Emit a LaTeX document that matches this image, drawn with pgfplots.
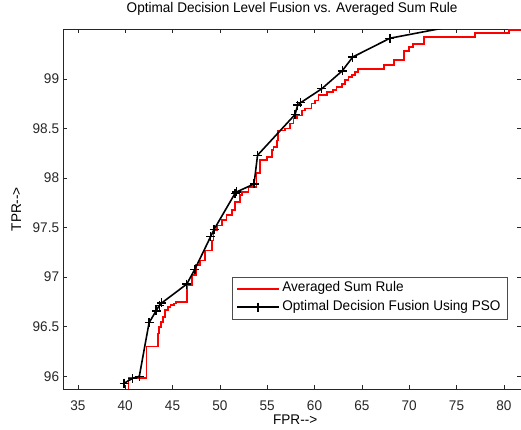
\documentclass[border=0pt]{standalone}
\usepackage{fontspec}
\setmainfont{Liberation Sans}[FakeStretch=0.97]
\usepackage{pgfplots}
\pgfplotsset{compat=1.18}
\newcommand\f{\fontsize{14bp}{16bp}\selectfont}
\begin{document}
\begin{tikzpicture}
\begin{axis}[
  scale only axis,
  width=457.7bp, height=359.7bp,
  xmin=33.46, xmax=81.81,
  ymin=95.872, ymax=99.5,
  xtick={35,40,...,80},
  ytick={96,96.5,97,97.5,98,98.5,99},
  yticklabels={96,{96.5\hspace{4.8bp}},97,{97.5\hspace{4.8bp}},98,{98.5\hspace{4.8bp}},99},
  xtick pos=both, ytick pos=both,
  tick align=inside,
  major tick length=4bp,
  minor tick num=0,
  axis line style={black!85, line width=0.7bp},
  every tick/.style={black!85, line width=0.7bp},
  /pgf/number format/assume math mode=true,
  ticklabel style={font=\f, text=black!85},
  xticklabel style={anchor=base, inner sep=0pt, yshift=-21bp},
  yticklabel style={anchor=east, inner sep=0pt, xshift=-4bp},
  title={Optimal Decision Level Fusion vs. Averaged Sum Rule},
  title style={at={(axis description cs:0.5,1)}, anchor=base, yshift=10.5bp, inner sep=0pt, font=\f},
  xlabel={FPR-{}-{}>},
  xlabel style={at={(axis description cs:0.5066,0)}, anchor=base, yshift=-35bp, inner sep=0pt, font=\f},
  ylabel={TPR-{}-{}>},
  ylabel style={at={(axis description cs:-0.0924,0.5)}, anchor=base, inner sep=0pt, font=\f},
  clip marker paths=true,
  legend cell align=left,
  legend style={at={(axis description cs:0.970,0.1938)}, anchor=south east,
    draw=black!70, line width=0.6bp, font=\f,
    inner xsep=4bp, inner ysep=2.5bp, row sep=0bp,
    nodes={inner sep=2.5bp, text height=10bp, text depth=3.5bp}},
  legend image code/.code={\draw[mark repeat=2,mark phase=2,#1] plot coordinates {(0bp,0bp) (21bp,0bp) (42bp,0bp)};},
]
\addplot[red, line width=1.6bp, const plot, mark=none] coordinates {
(40.33,95.81) (40.33,95.98) (42.27,96.30) (43.44,96.43) (43.57,96.50)
(43.78,96.55) (44.00,96.60) (44.21,96.67) (44.52,96.70) (44.79,96.72)
(45.16,96.735) (45.37,96.75) (46.50,96.92) (47.03,97.02) (47.45,97.12)
(47.90,97.17) (48.43,97.27) (49.14,97.37) (49.31,97.47) (49.70,97.52)
(50.20,97.575) (50.72,97.625) (51.25,97.675) (51.60,97.76) (52.13,97.83)
(52.31,97.86) (53.01,97.91) (53.89,98.05) (54.24,98.18) (54.95,98.21)
(55.48,98.28) (55.65,98.31) (56.01,98.38) (56.17,98.48) (56.88,98.50)
(57.41,98.55) (57.76,98.60) (58.12,98.63) (58.65,98.68) (59.00,98.70)
(59.70,98.75) (60.05,98.78) (60.40,98.835) (61.29,98.87) (61.98,98.885)
(62.34,98.92) (62.87,98.95) (63.22,98.99) (63.57,99.02) (63.93,99.04)
(64.28,99.07) (64.62,99.10) (67.34,99.14) (68.40,99.19) (69.45,99.28)
(69.98,99.32) (70.40,99.35) (71.56,99.42) (76.95,99.46) (80.54,99.49)
(82.76,99.49)
};
\addlegendentry{Averaged Sum Rule}
\addplot[black, line width=1.6bp, mark=+, mark size=4.5bp, mark options={line width=1.3bp}] coordinates {
(39.88,95.93) (40.79,95.98) (41.49,96.00) (42.52,96.54) (43.26,96.66)
(43.60,96.715) (43.86,96.74) (46.50,96.93) (47.36,97.08) (49.03,97.41)
(49.38,97.48) (51.60,97.845) (51.78,97.86) (53.61,97.94) (53.98,98.23)
(57.94,98.64) (58.22,98.735) (58.54,98.76) (60.76,98.90) (62.92,99.08)
(64.03,99.22) (67.97,99.41) (81.7,99.66)
};
\addlegendentry{Optimal Decision Fusion Using PSO}
\end{axis}
\pgfresetboundingbox
\path[use as bounding box] ([xshift=-63.3bp,yshift=-41bp]current axis.south west) rectangle ([yshift=29.3bp]current axis.north east);
\end{tikzpicture}
\end{document}
